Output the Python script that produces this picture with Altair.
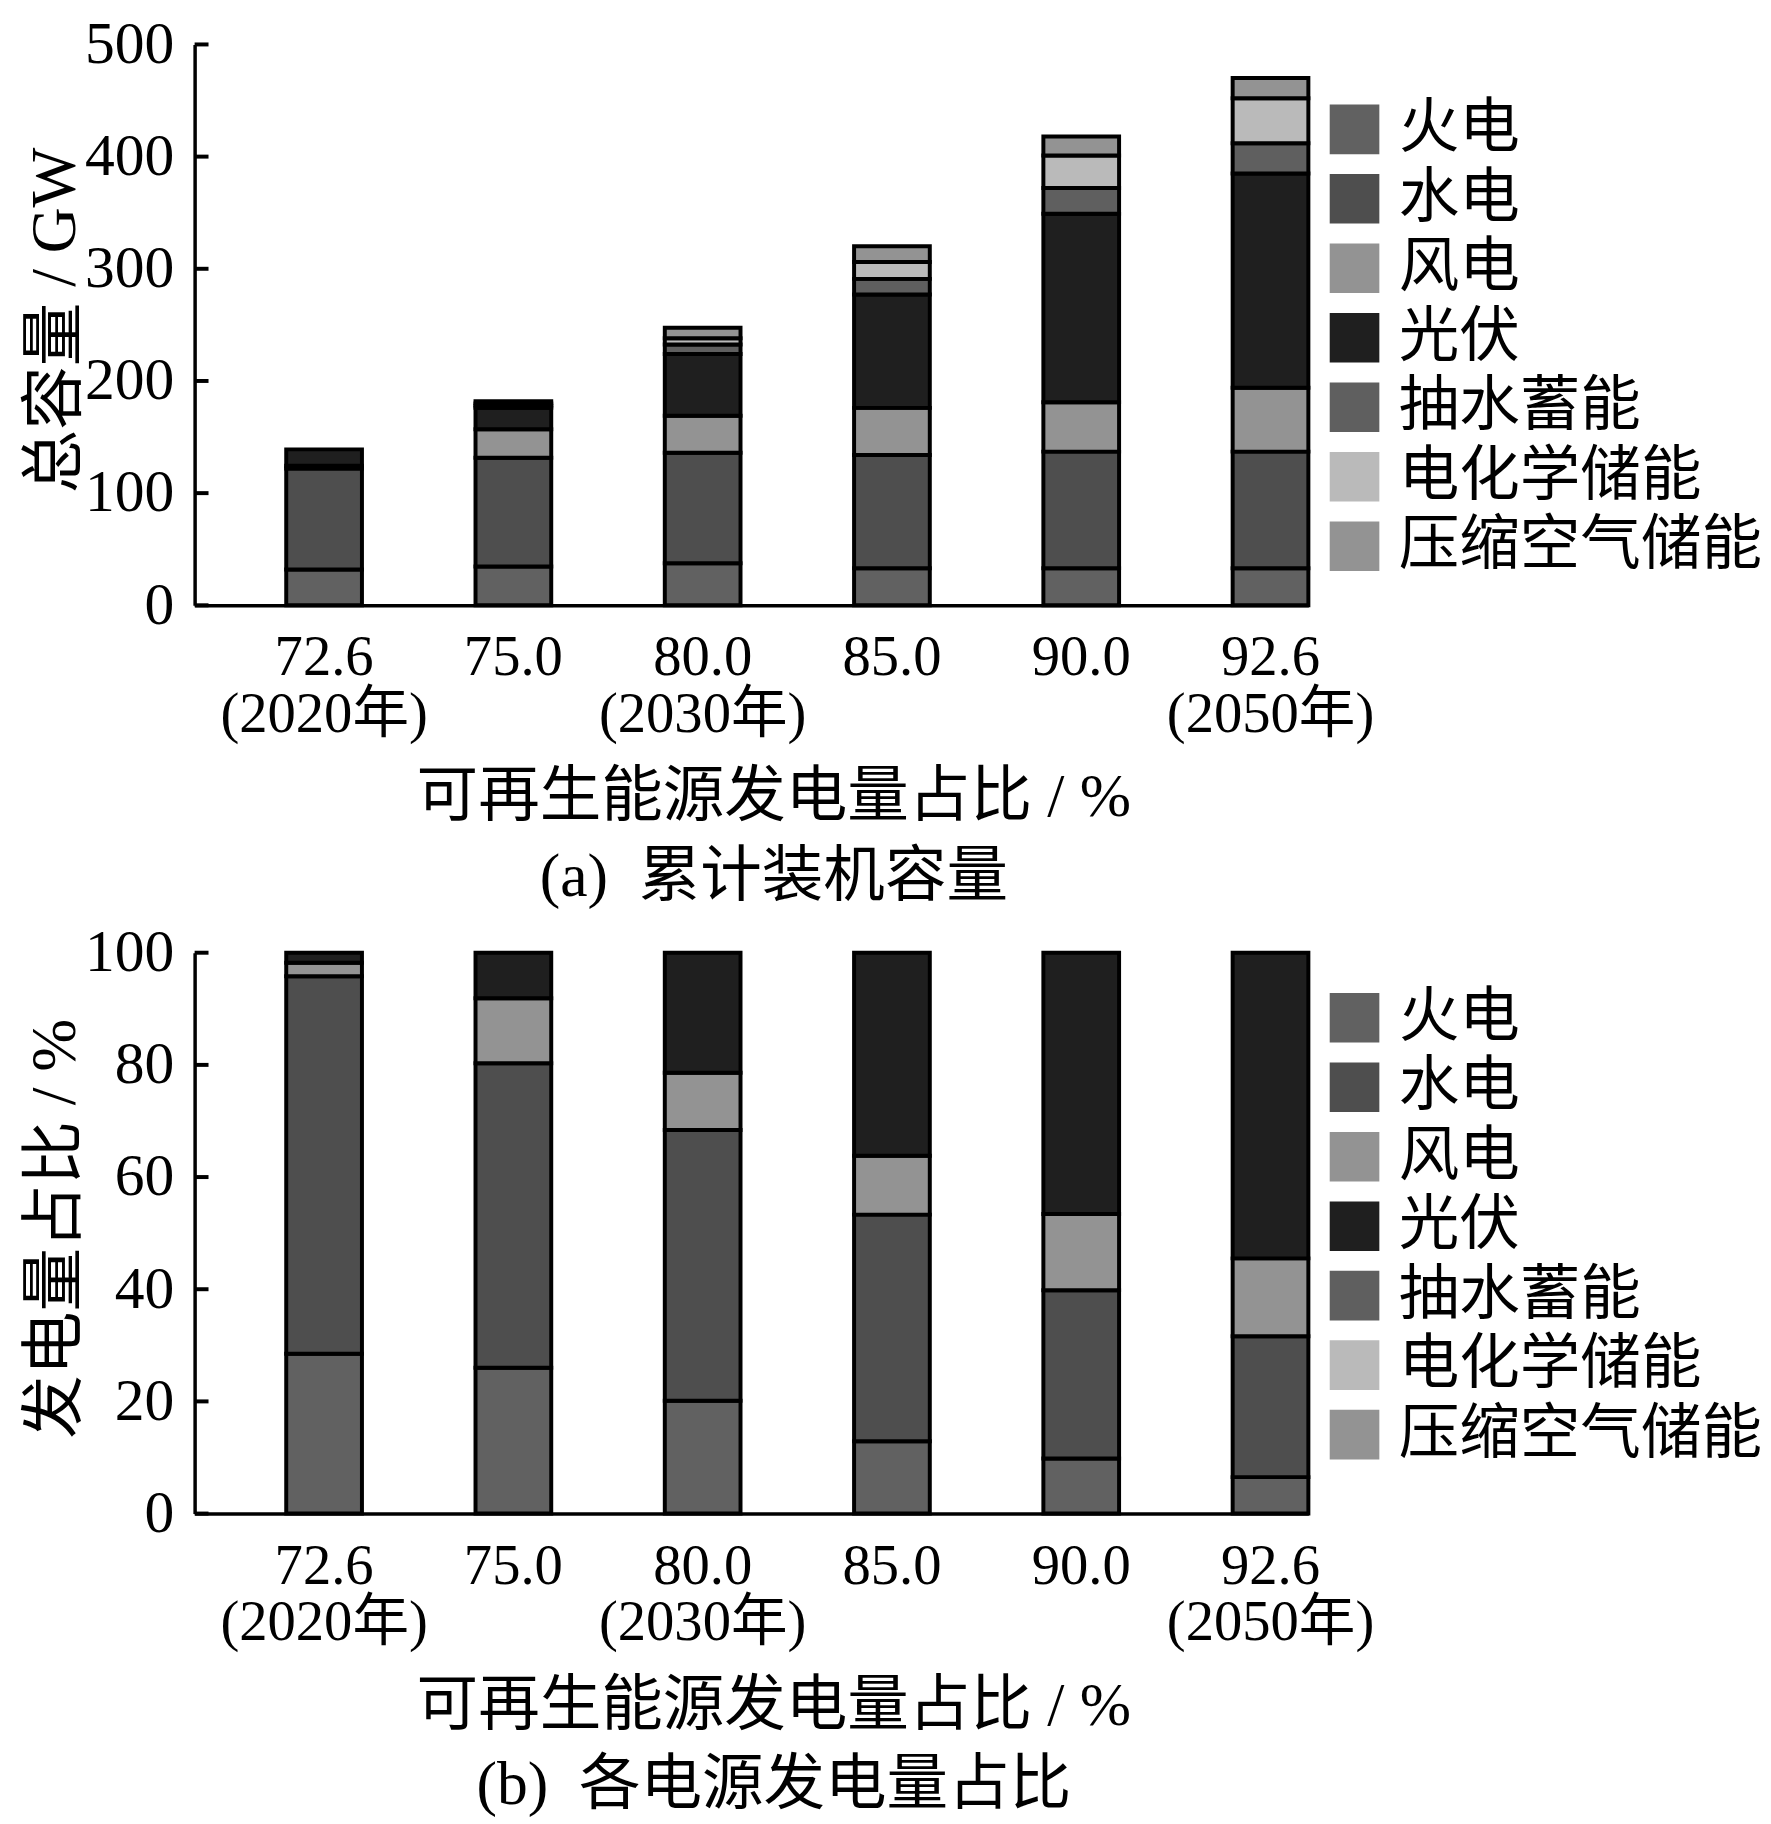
import altair as alt
import pandas as pd

categories = ["72.6\n(2020年)", "75.0", "80.0\n(2030年)", "85.0", "90.0", "92.6\n(2050年)"]
sources = ["火电", "水电", "风电", "光伏", "抽水蓄能", "电化学储能", "压缩空气储能"]
colors = ["#616161", "#4e4e4e", "#939393", "#1f1f1f", "#5f5f5f", "#bababa", "#939393"]

# (a) cumulative installed capacity, GW
cap_thermal = [32, 34.5, 37.5, 33, 33, 33]
cap_hydro = [90, 97, 98.5, 101, 104, 104]
cap_wind = [2.5, 25.5, 33, 42, 44, 57]
cap_pv = [14.5, 19, 55, 101, 168, 191]
cap_pumped = [0, 2, 8.5, 14, 23, 27]
cap_electro = [0, 2, 5.5, 15, 29, 40]
cap_caes = [0, 2, 9.5, 14, 17, 18]

# (b) share of generation, %
gen_thermal = [28.5, 26.0, 20.1, 12.9, 9.8, 6.5]
gen_hydro = [67.3, 54.3, 48.3, 40.4, 30.0, 25.1]
gen_wind = [2.4, 11.6, 10.2, 10.5, 13.6, 13.9]
gen_pv = [1.8, 8.1, 21.4, 36.2, 46.6, 54.5]

FONT = "Liberation Serif, Noto Sans CJK SC"
W, H = 1122, 565


def make_df(series):
    rows = []
    for si, vals in enumerate(series):
        for ci, v in enumerate(vals):
            if v > 0:
                rows.append({"cat": categories[ci], "source": sources[si], "idx": si, "value": v})
    return pd.DataFrame(rows)


def panel(df, ymax, step, ytitle, xtitle, caption, legend_y):
    tick_vals = list(range(0, ymax + 1, step))
    tick_df = pd.DataFrame({"value": tick_vals})
    y_scale = alt.Scale(domain=[0, ymax], nice=False, zero=True)
    y_axis = alt.Axis(
        values=tick_vals,
        title=ytitle, titleFont=FONT, titleFontSize=64, titleFontWeight="normal",
        titleAngle=270, titleBaseline="middle", titleAlign="center",
        titleX=-140, titleY=H / 2 - 5, titleColor="black",
        labelFont=FONT, labelFontSize=60, labelPadding=21, labelColor="black",
        ticks=False, tickSize=0, domainColor="black", domainWidth=3.5, grid=False,
    )
    bars = alt.Chart(df).mark_bar(stroke="black", strokeWidth=4).encode(
        x=alt.X(
            "cat:N",
            sort=categories,
            scale=alt.Scale(paddingInner=0.6, paddingOuter=0.242, align=1),
            axis=alt.Axis(
                title=[xtitle, caption],
                titleFont=FONT, titleFontSize=62, titleFontWeight="normal",
                titleLineHeight=80, titleBaseline="top", titleAlign="center",
                titleX=583, titleY=163, titleColor="black",
                labelAngle=0, labelExpr="split(datum.label, '\\n')",
                labelFont=FONT, labelFontSize=57, labelLineHeight=57,
                labelPadding=25, labelLimit=0, labelOverlap=False, labelColor="black",
                ticks=False, tickSize=0, domainColor="black", domainWidth=3.5, grid=False,
            ),
        ),
        y=alt.Y("value:Q", stack="zero", scale=y_scale, axis=y_axis),
        color=alt.Color(
            "source:N",
            scale=alt.Scale(domain=sources, range=colors),
            legend=alt.Legend(
                title=None, orient="none", legendX=1138, legendY=legend_y,
                symbolType="square", symbolSize=2500, symbolStrokeWidth=0, symbolOpacity=1,
                labelFont=FONT, labelFontSize=61, labelColor="black", labelOffset=14,
                labelLimit=600, rowPadding=8,
            ),
        ),
        order=alt.Order("idx:Q", sort="ascending"),
    )
    ticks = alt.Chart(tick_df).mark_rule(color="black", strokeWidth=4).encode(
        y=alt.Y("value:Q", scale=y_scale, axis=y_axis),
        x=alt.value(0),
        x2=alt.value(14),
    )
    return alt.layer(bars, ticks).properties(width=W, height=H)


df_a = make_df([cap_thermal, cap_hydro, cap_wind, cap_pv, cap_pumped, cap_electro, cap_caes])
df_b = make_df([gen_thermal, gen_hydro, gen_wind, gen_pv])

top = panel(df_a, 500, 100, "总容量 / GW", "可再生能源发电量占比 / %",
            "(a)\u00a0\u00a0累计装机容量", 55)
bottom = panel(df_b, 100, 20, "发电量占比 / %", "可再生能源发电量占比 / %",
               "(b)\u00a0\u00a0各电源发电量占比", 35)

chart = (
    alt.vconcat(top, bottom, spacing=16)
    .resolve_scale(color="independent", x="independent", y="independent")
    .resolve_legend(color="independent")
    .properties(padding={"left": 16, "top": 0, "right": 0, "bottom": 0}, background="white")
    .configure_view(stroke=None)
)

chart.save("out.html", embed_options={"renderer": "svg", "actions": False})
